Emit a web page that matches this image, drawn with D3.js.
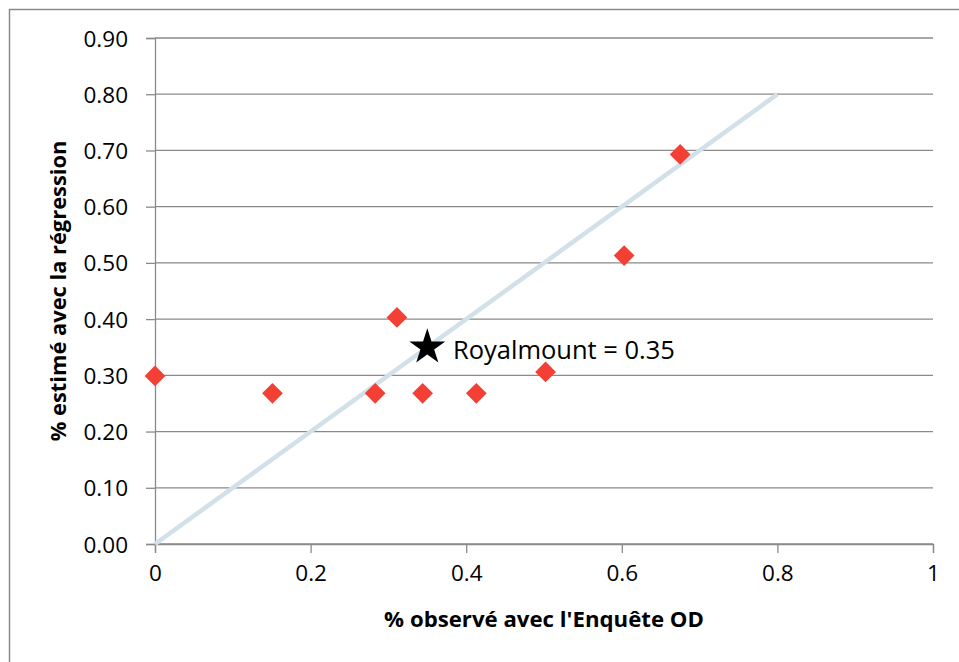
<!DOCTYPE html>
<html><head><meta charset="utf-8">
<script src="https://cdn.jsdelivr.net/npm/d3@7"></script>
<style>body{margin:0;background:#fff}</style>
</head><body>
<svg id="c" width="959" height="662"></svg>
<script>
const observedX = [0, 0.151, 0.283, 0.311, 0.344, 0.413, 0.502, 0.603, 0.675];
const estimatedY = [0.299, 0.268, 0.268, 0.403, 0.268, 0.268, 0.306, 0.513, 0.693];
const refLineX = [0, 0.8];
const refLineY = [0, 0.8];
const royalmount = {x: 0.35, y: 0.35, label: "Royalmount = 0.35"};
const xTicks = [0, 0.2, 0.4, 0.6, 0.8, 1];
const yTicks = [0, 0.1, 0.2, 0.3, 0.4, 0.5, 0.6, 0.7, 0.8, 0.9];
const xTitle = "% observé avec l'Enquête OD";
const yTitle = "% estimé avec la régression";

const svg = d3.select("#c");
const font = "'Open Sans', sans-serif";
const grid = "#8a8a8a";

svg.append("rect").attr("x", 9.5).attr("y", 9.5).attr("width", 980).attr("height", 700)
  .attr("fill", "#fff").attr("stroke", grid).attr("stroke-width", 1.5);

const x = d3.scaleLinear().domain([0, 1]).range([155, 933]);
const y = d3.scaleLinear().domain([0, 0.9]).range([544, 38]);

// gridlines
svg.append("g").selectAll("line").data(yTicks).join("line")
  .attr("x1", x(0)).attr("x2", x(1)).attr("y1", d => y(d)).attr("y2", d => y(d))
  .attr("stroke", grid).attr("stroke-width", 1.3);

// y axis
const ya = svg.append("g").attr("transform", `translate(${x(0)},0)`)
  .call(d3.axisLeft(y).tickValues(yTicks).tickFormat(d3.format(".2f")).tickSize(9).tickPadding(18));
ya.select(".domain").attr("stroke", grid).attr("stroke-width", 1.3);
ya.selectAll(".tick line").attr("stroke", grid).attr("stroke-width", 1.3);
ya.selectAll(".tick text").attr("font-family", font).attr("font-size", 22.5).attr("fill", "#000")
  .attr("dy", "0.36em");

// x axis
const xa = svg.append("g").attr("transform", `translate(0,${y(0)})`)
  .call(d3.axisBottom(x).tickValues(xTicks).tickFormat(d => d3.format("")(d)).tickSize(9).tickPadding(12));
xa.select(".domain").attr("stroke", grid).attr("stroke-width", 1.3);
xa.selectAll(".tick line").attr("stroke", grid).attr("stroke-width", 1.3);
xa.selectAll(".tick text").attr("font-family", font).attr("font-size", 22.5).attr("fill", "#000")
  .attr("dy", "0.71em");

// reference line
const line = d3.line().x(d => x(d[0])).y(d => y(d[1]));
svg.append("path").datum(refLineX.map((v, i) => [v, refLineY[i]]))
  .attr("d", line).attr("fill", "none").attr("stroke", "#d2e0ea").attr("stroke-width", 4.5);

// diamonds
const diamond = d3.symbol(d3.symbolSquare, 215);
svg.append("g").selectAll("path").data(observedX.map((v, i) => [v, estimatedY[i]])).join("path")
  .attr("d", diamond)
  .attr("transform", d => `translate(${x(d[0])},${y(d[1])}) rotate(45)`)
  .attr("fill", "#f43f35");

// star
svg.append("path").attr("d", d3.symbol(d3.symbolStar, 400))
  .attr("transform", `translate(${x(royalmount.x)},${y(royalmount.y)})`)
  .attr("fill", "#000");

function fit(sel, w) {
  const len = sel.node().getComputedTextLength();
  const fs = parseFloat(sel.attr("font-size"));
  sel.attr("font-size", fs * w / len);
}

const lab = svg.append("text").attr("x", 453).attr("y", y(royalmount.y) + 12)
  .attr("font-family", font).attr("font-size", 25).attr("fill", "#000").text(royalmount.label);
fit(lab, 222);

const xt = svg.append("text").attr("x", (x(0) + x(1)) / 2).attr("y", 627)
  .attr("text-anchor", "middle").attr("font-family", font).attr("font-weight", "bold")
  .attr("font-size", 22).attr("fill", "#000").text(xTitle);
fit(xt, 320);

const yt = svg.append("text").attr("transform", `translate(66,${(y(0) + y(0.9)) / 2}) rotate(-90)`)
  .attr("text-anchor", "middle").attr("font-family", font).attr("font-weight", "bold")
  .attr("font-size", 22).attr("fill", "#000").text(yTitle);
fit(yt, 301);
</script>
</body></html>
